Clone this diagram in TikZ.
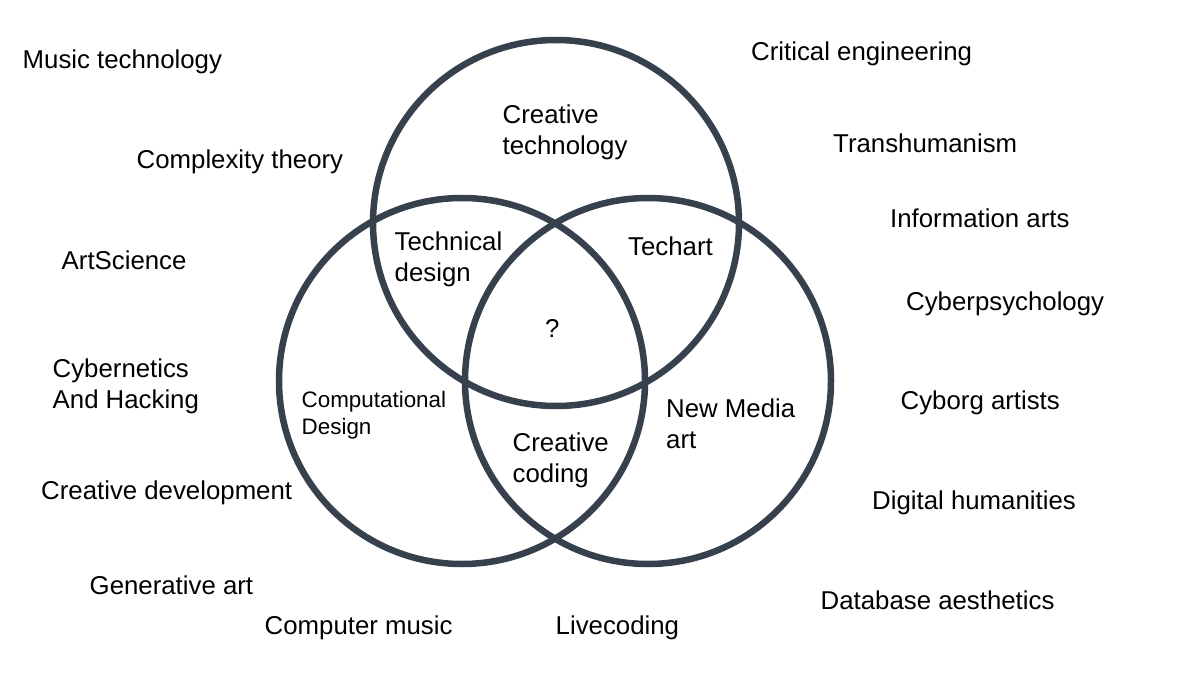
\documentclass[tikz,border=0pt]{standalone}
\usepackage{fontspec}
\setmainfont{Liberation Sans}
\definecolor{ringc}{RGB}{55,65,77}
\newcommand{\twolines}[2]{\begin{tabular}[t]{@{}l@{}}#1\\#2\end{tabular}}
\begin{document}
\begin{tikzpicture}[x=1pt,y=-1pt,
  ring/.style={circle, draw=ringc, line width=6.5pt, minimum size=366pt, inner sep=0pt},
  lbl/.style={anchor=base west, inner sep=0pt, font=\fontsize{25.8}{31}\selectfont, text=black},
  smalllbl/.style={lbl, font=\fontsize{22.4}{26.5}\selectfont}]
\useasboundingbox (0,0) rectangle (1183,679);
\fill[white] (0,0) rectangle (1183,679);
% circles
\node[ring] (ctop) at (556,223) {};
\node[ring] (cleft) at (462,381) {};
\node[ring] (cright) at (648,381) {};
% inner labels
\node[lbl] (ct) at (502.5,124) {\twolines{Creative}{technology}};
\node[lbl] (td) at (394.5,251) {\twolines{Technical}{design}};
\node[lbl] (ta) at (628,255) {Techart};
\node[lbl] (q) at (545,337) {?};
\node[smalllbl] (cd) at (301.5,407.5) {\twolines{Computational}{Design}};
\node[lbl] (nm) at (666,417) {\twolines{New Media}{art}};
\node[lbl] (cc) at (512.5,451) {\twolines{Creative}{coding}};
% outer labels, left
\node[lbl] (mt) at (22.5,68.5) {Music technology};
\node[lbl] (cx) at (136.5,168.5) {Complexity theory};
\node[lbl] (as) at (61.5,269) {ArtScience};
\node[lbl] (ch) at (52.5,377.5) {\twolines{Cybernetics}{And Hacking}};
\node[lbl] (cdev) at (41,499) {Creative development};
\node[lbl] (ga) at (89.5,594) {Generative art};
\node[lbl] (cm) at (264.5,634) {Computer music};
\node[lbl] (lc) at (555.5,634) {Livecoding};
% outer labels, right
\node[lbl] (da) at (820.5,609) {Database aesthetics};
\node[lbl] (dh) at (872,509) {Digital humanities};
\node[lbl] (cy) at (900.5,409) {Cyborg artists};
\node[lbl] (cp) at (906,310) {Cyberpsychology};
\node[lbl] (ia) at (890,227.5) {Information arts};
\node[lbl] (th) at (833,152.5) {Transhumanism};
\node[lbl] (ce) at (751,61) {Critical engineering};
\end{tikzpicture}
\end{document}
